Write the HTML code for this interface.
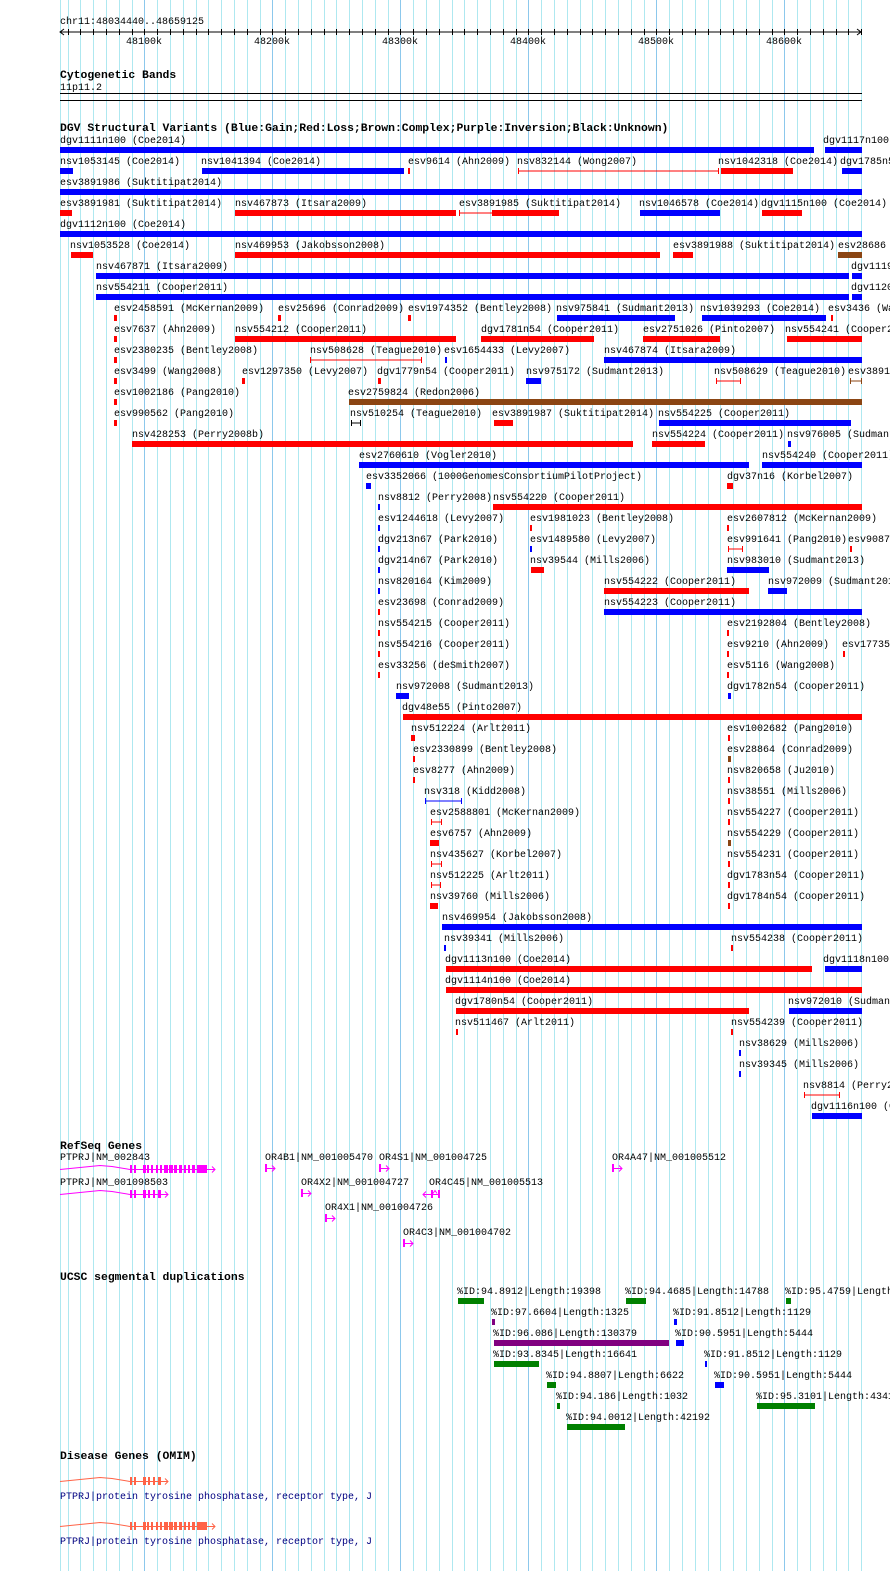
<!DOCTYPE html>
<html><head><meta charset="utf-8"><style>
html,body{margin:0;padding:0;background:#fff;}
svg{display:block;}
text{font-family:"Liberation Mono",monospace;font-size:10px;fill:#000;}
.h{font-size:11.4px;font-weight:bold;}
</style></head><body>
<svg id="s" xmlns="http://www.w3.org/2000/svg" width="890" height="1571" viewBox="0 0 890 1571">
<g id="grid"></g>
<text x="60" y="24">chr11:48034440..48659125</text>
<line x1="60" y1="32" x2="861" y2="32" stroke="#000"/>
<polyline points="64,29 60,32 64,35" fill="none" stroke="#000"/>
<polyline points="857,29 861,32 857,35" fill="none" stroke="#000"/>
<g id="ticks"></g>
<text x="126" y="44">48100k</text><text x="254" y="44">48200k</text><text x="382" y="44">48300k</text><text x="510" y="44">48400k</text><text x="638" y="44">48500k</text><text x="766" y="44">48600k</text>
<text class="h" x="60" y="78">Cytogenetic Bands</text>
<text x="60" y="90">11p11.2</text>
<line x1="60" y1="93.5" x2="862" y2="93.5" stroke="#000"/>
<line x1="60" y1="100.5" x2="862" y2="100.5" stroke="#000"/>
<text class="h" x="60" y="131">DGV Structural Variants (Blue:Gain;Red:Loss;Brown:Complex;Purple:Inversion;Black:Unknown)</text>
<g id="dgv"></g>
<text class="h" x="60" y="1149">RefSeq Genes</text>
<g id="genes"></g>
<text class="h" x="60" y="1280">UCSC segmental duplications</text>
<g id="seg"></g>
<text class="h" x="60" y="1459">Disease Genes (OMIM)</text>
<g id="dis"></g>
<text x="60" y="1499" style="fill:#000080">PTPRJ|protein tyrosine phosphatase, receptor type, J</text>
<text x="60" y="1544" style="fill:#000080">PTPRJ|protein tyrosine phosphatase, receptor type, J</text>
</svg>
<script>
var NS="http://www.w3.org/2000/svg";
function el(p,t,a,txt){var e=document.createElementNS(NS,t);for(var k in a)e.setAttribute(k,a[k]);if(txt!==undefined)e.textContent=txt;document.getElementById(p).appendChild(e);return e;}
// grid
el("grid","line",{x1:60.5,y1:0,x2:60.5,y2:1571,stroke:"#aee8f0"});
for(var k=-6;k<=56;k++){var x=144.3+12.8*k;if(x<60||x>862)continue;var xr=Math.round(x)+0.5;var dark=(k%10==0);
el("grid","line",{x1:xr,y1:0,x2:xr,y2:1571,stroke:dark?"#8cc8ec":"#aee8f0"});
el("ticks","line",{x1:xr,y1:29,x2:xr,y2:35,stroke:"#000"});}
var C={B:"#0000ff",R:"#ff0000",N:"#8b4513",K:"#000000",G:"#008000",P:"#800080"};
// rows: [row, labelX, label, color, x1, x2, thin]
var D=[
[0,60,"dgv1111n100 (Coe2014)","B",60,814],[0,823,"dgv1117n100 (Coe2014)","B",825,862],
[1,60,"nsv1053145 (Coe2014)","B",60,73],[1,201,"nsv1041394 (Coe2014)","B",202,404],[1,408,"esv9614 (Ahn2009)","R",408,409],[1,517,"nsv832144 (Wong2007)","R",518,719,1],[1,718,"nsv1042318 (Coe2014)","R",721,793],[1,840,"dgv1785n54 (Cooper2011)","B",842,862],
[2,60,"esv3891986 (Suktitipat2014)","B",60,862],
[3,60,"esv3891981 (Suktitipat2014)","R",60,72],[3,235,"nsv467873 (Itsara2009)","R",235,456],[3,459,"esv3891985 (Suktitipat2014)","R",459,493,1],[3,0,"","R",493,559],[3,639,"nsv1046578 (Coe2014)","B",640,720],[3,761,"dgv1115n100 (Coe2014)","R",762,802],
[4,60,"dgv1112n100 (Coe2014)","B",60,862],
[5,70,"nsv1053528 (Coe2014)","R",71,93],[5,235,"nsv469953 (Jakobsson2008)","R",235,660],[5,673,"esv3891988 (Suktitipat2014)","R",673,693],[5,838,"esv28686 (Conrad2009)","N",838,862],
[6,96,"nsv467871 (Itsara2009)","B",96,849],[6,851,"dgv1119n100 (Coe2014)","B",852,862],
[7,96,"nsv554211 (Cooper2011)","B",96,849],[7,851,"dgv1120n100 (Coe2014)","B",852,862],
[8,114,"esv2458591 (McKernan2009)","R",114,117],[8,278,"esv25696 (Conrad2009)","R",278,281],[8,408,"esv1974352 (Bentley2008)","R",408,411],[8,556,"nsv975841 (Sudmant2013)","B",557,675],[8,700,"nsv1039293 (Coe2014)","B",702,826],[8,828,"esv3436 (Wang2008)","R",831,833],
[9,114,"esv7637 (Ahn2009)","R",114,117],[9,235,"nsv554212 (Cooper2011)","R",235,456],[9,481,"dgv1781n54 (Cooper2011)","R",481,594],[9,643,"esv2751026 (Pinto2007)","R",643,720],[9,785,"nsv554241 (Cooper2011)","R",787,862],
[10,114,"esv2380235 (Bentley2008)","R",114,117],[10,310,"nsv508628 (Teague2010)","R",310,422,1],[10,444,"esv1654433 (Levy2007)","B",445,447],[10,604,"nsv467874 (Itsara2009)","B",604,862],
[11,114,"esv3499 (Wang2008)","R",114,117],[11,242,"esv1297350 (Levy2007)","R",242,245],[11,377,"dgv1779n54 (Cooper2011)","R",378,381],[11,526,"nsv975172 (Sudmant2013)","B",526,541],[11,714,"nsv508629 (Teague2010)","R",716,741,1],[11,848,"esv3891989 (Suktitipat2014)","N",850,862,1],
[12,114,"esv1002186 (Pang2010)","R",114,117],[12,348,"esv2759824 (Redon2006)","N",349,862],
[13,114,"esv990562 (Pang2010)","R",114,117],[13,350,"nsv510254 (Teague2010)","K",351,361,1],[13,492,"esv3891987 (Suktitipat2014)","R",494,513],[13,658,"nsv554225 (Cooper2011)","B",659,851],
[14,132,"nsv428253 (Perry2008b)","R",132,633],[14,652,"nsv554224 (Cooper2011)","R",652,705],[14,787,"nsv976005 (Sudmant2013)","B",788,791],
[15,359,"esv2760610 (Vogler2010)","B",359,749],[15,762,"nsv554240 (Cooper2011)","B",762,862],
[16,366,"esv3352066 (1000GenomesConsortiumPilotProject)","B",366,371],[16,727,"dgv37n16 (Korbel2007)","R",727,733],
[17,378,"nsv8812 (Perry2008)","B",378,380],[17,493,"nsv554220 (Cooper2011)","R",493,862],
[18,378,"esv1244618 (Levy2007)","B",378,380],[18,530,"esv1981023 (Bentley2008)","R",530,532],[18,727,"esv2607812 (McKernan2009)","R",727,729],
[19,378,"dgv213n67 (Park2010)","B",378,380],[19,530,"esv1489580 (Levy2007)","B",530,532],[19,727,"esv991641 (Pang2010)","R",728,743,1],[19,848,"esv9087 (Ahn2009)","R",850,852],
[20,378,"dgv214n67 (Park2010)","B",378,380],[20,530,"nsv39544 (Mills2006)","R",531,544],[20,727,"nsv983010 (Sudmant2013)","B",727,769],
[21,378,"nsv820164 (Kim2009)","B",378,380],[21,604,"nsv554222 (Cooper2011)","R",604,749],[21,768,"nsv972009 (Sudmant2013)","B",768,787],
[22,378,"esv23698 (Conrad2009)","R",378,380],[22,604,"nsv554223 (Cooper2011)","B",604,862],
[23,378,"nsv554215 (Cooper2011)","R",378,380],[23,727,"esv2192804 (Bentley2008)","R",727,729],
[24,378,"nsv554216 (Cooper2011)","R",378,380],[24,727,"esv9210 (Ahn2009)","R",727,729],[24,842,"esv17735 (Bentley2008)","R",843,845],
[25,378,"esv33256 (deSmith2007)","R",378,380],[25,727,"esv5116 (Wang2008)","R",727,729],
[26,396,"nsv972008 (Sudmant2013)","B",396,409],[26,727,"dgv1782n54 (Cooper2011)","B",728,731],
[27,402,"dgv48e55 (Pinto2007)","R",403,862],
[28,411,"nsv512224 (Arlt2011)","R",411,415],[28,727,"esv1002682 (Pang2010)","R",728,730],
[29,413,"esv2330899 (Bentley2008)","R",413,415],[29,727,"esv28864 (Conrad2009)","N",728,731],
[30,413,"esv8277 (Ahn2009)","R",413,415],[30,727,"nsv820658 (Ju2010)","R",728,730],
[31,424,"nsv318 (Kidd2008)","B",425,462,1],[31,727,"nsv38551 (Mills2006)","R",728,730],
[32,430,"esv2588801 (McKernan2009)","R",431,442,1],[32,727,"nsv554227 (Cooper2011)","R",728,730],
[33,430,"esv6757 (Ahn2009)","R",430,439],[33,727,"nsv554229 (Cooper2011)","N",728,731],
[34,430,"nsv435627 (Korbel2007)","R",431,442,1],[34,727,"nsv554231 (Cooper2011)","R",728,730],
[35,430,"nsv512225 (Arlt2011)","R",431,441,1],[35,727,"dgv1783n54 (Cooper2011)","R",728,730],
[36,430,"nsv39760 (Mills2006)","R",430,438],[36,727,"dgv1784n54 (Cooper2011)","R",728,730],
[37,442,"nsv469954 (Jakobsson2008)","B",442,862],
[38,444,"nsv39341 (Mills2006)","B",444,446],[38,731,"nsv554238 (Cooper2011)","R",731,733],
[39,445,"dgv1113n100 (Coe2014)","R",446,812],[39,823,"dgv1118n100 (Coe2014)","B",825,862],
[40,445,"dgv1114n100 (Coe2014)","R",446,862],
[41,455,"dgv1780n54 (Cooper2011)","R",456,749],[41,788,"nsv972010 (Sudmant2013)","B",789,862],
[42,455,"nsv511467 (Arlt2011)","R",456,458],[42,731,"nsv554239 (Cooper2011)","R",731,733],
[43,739,"nsv38629 (Mills2006)","B",739,741],
[44,739,"nsv39345 (Mills2006)","B",739,741],
[45,803,"nsv8814 (Perry2008)","R",804,840,1],
[46,811,"dgv1116n100 (Coe2014)","B",812,862]
];
function feat(g,top,lx,lab,col,x1,x2,thin){
 if(lab)el(g,"text",{x:lx,y:top-4},lab);
 var c=C[col];
 if(thin){var m=top+3;el(g,"rect",{x:x1,y:m-0.5,width:x2-x1,height:1,fill:c});
  el(g,"rect",{x:x1,y:top,width:1,height:6,fill:c});el(g,"rect",{x:x2-1,y:top,width:1,height:6,fill:c});}
 else el(g,"rect",{x:x1,y:top,width:Math.max(2,x2-x1),height:6,fill:c});
}
D.forEach(function(d){feat("dgv",147+21*d[0],d[1],d[2],d[3],d[4],d[5],d[6]);});
// segdups
var S=[
[0,457,"%ID:94.8912|Length:19398","G",458,484],[0,625,"%ID:94.4685|Length:14788","G",626,646],[0,785,"%ID:95.4759|Length:1507","G",786,791],
[1,491,"%ID:97.6604|Length:1325","P",492,495],[1,673,"%ID:91.8512|Length:1129","B",674,677],
[2,493,"%ID:96.086|Length:130379","P",494,669],[2,675,"%ID:90.5951|Length:5444","B",676,684],
[3,493,"%ID:93.8345|Length:16641","G",494,539],[3,704,"%ID:91.8512|Length:1129","B",705,707],
[4,546,"%ID:94.8807|Length:6622","G",547,556],[4,714,"%ID:90.5951|Length:5444","B",715,724],
[5,556,"%ID:94.186|Length:1032","G",557,560],[5,756,"%ID:95.3101|Length:43411","G",757,815],
[6,566,"%ID:94.0012|Length:42192","G",567,625]];
S.forEach(function(d){feat("seg",1298+21*d[0],d[1],d[2],d[3],d[4],d[5]);});
// gene glyphs
function gene(g,y,col,exons,end,hat){ // y = top of exon
 var m=y+4;
 if(hat)el(g,"polyline",{points:"60,"+(m+0.5)+" 80,"+(m-1.5)+" 100,"+(m-3.5)+" 112,"+(m-2.5)+" 130,"+(m+0.5),fill:"none",stroke:col});
 el(g,"line",{x1:exons[0][0],y1:m+0.5,x2:end,y2:m+0.5,stroke:col});
 exons.forEach(function(e){el(g,"rect",{x:e[0],y:y,width:e[1],height:8,fill:col});});
 el(g,"polyline",{points:(end-3)+","+(m-2.5)+" "+end+","+(m+0.5)+" "+(end-3)+","+(m+3.5),fill:"none",stroke:col});
}
var M="#ff00ff";
var longEx=[[130,2],[134,2],[143,3],[147,2],[151,2],[156,2],[160,2],[164,4],[169,4],[174,3],[179,3],[184,2],[188,2],[192,3],[197,10]];
var shortEx=[[130,2],[134,2],[143,3],[148,2],[153,2],[158,3]];
gene("genes",1165,M,longEx,215,1);
gene("genes",1190,M,shortEx,168,1);
function small(lx,top,lab){el("genes","text",{x:lx,y:top},lab);var y=top+4;gene("genes",y,M,[[lx,2]],lx+10,0);}
el("genes","text",{x:60,y:1160},"PTPRJ|NM_002843");
el("genes","text",{x:60,y:1185},"PTPRJ|NM_001098503");
small(265,1160,"OR4B1|NM_001005470");
small(379,1160,"OR4S1|NM_001004725");
small(612,1160,"OR4A47|NM_001005512");
small(301,1185,"OR4X2|NM_001004727");
small(325,1210,"OR4X1|NM_001004726");
small(403,1235,"OR4C3|NM_001004702");
el("genes","text",{x:429,y:1185},"OR4C45|NM_001005513");
(function(){var y=1190,m=y+4.5;el("genes","line",{x1:423,y1:m,x2:440,y2:m,stroke:M});
el("genes","polyline",{points:"426,"+(m-3)+" 423,"+m+" 426,"+(m+3),fill:"none",stroke:M});
el("genes","rect",{x:431,y:y,width:2,height:8,fill:M});el("genes","rect",{x:438,y:y,width:2,height:8,fill:M});
el("genes","polyline",{points:"433,"+(m-1)+" 435,"+(m-4)+" 437,"+(m-1),fill:"none",stroke:M});})();
var O="#ff6347";
gene("dis",1477,O,shortEx,168,1);
gene("dis",1522,O,longEx,215,1);
</script>
</body></html>
